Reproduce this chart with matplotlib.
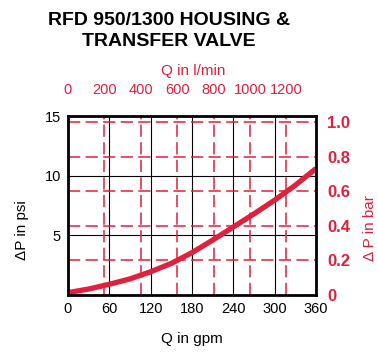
import matplotlib
matplotlib.use("Agg")
import matplotlib.pyplot as plt
import numpy as np

plt.rcParams['font.family'] = ['Liberation Sans', 'DejaVu Sans']

RED = '#e0203c'

# data
flow_gpm = [0, 30, 60, 90, 120, 150, 180, 210, 240, 270, 300, 330, 360]
dp_psi = [0.2, 0.5, 0.9, 1.35, 1.95, 2.65, 3.55, 4.6, 5.7, 6.8, 7.95, 9.2, 10.6]

x_ticks_gpm = [0, 60, 120, 180, 240, 300, 360]
y_ticks_psi = [5, 10, 15]
x_ticks_lpm = [0, 200, 400, 600, 800, 1000, 1200]
y_ticks_bar = [0, 0.2, 0.4, 0.6, 0.8, 1.0]
y_labels_bar = ['0', '0.2', '0.4', '0.6', '0.8', '1.0']

LPM_PER_GPM = 3.785
PSI_PER_BAR = 14.5038

W, H = 378, 352
fig = plt.figure(figsize=(W / 100, H / 100), dpi=100)
ax = fig.add_axes([68 / W, 57 / H, 248 / W, 179 / H])
ax.set_xlim(0, 360)
ax.set_ylim(0, 15)

# black grid
for xv in x_ticks_gpm[1:-1]:
    ax.axvline(xv, color='black', lw=0.8, zorder=1)
for yv in y_ticks_psi[:-1]:
    ax.axhline(yv, color='black', lw=0.8, zorder=1)
# red dashed grid
for lv in x_ticks_lpm[1:]:
    ax.axvline(lv / LPM_PER_GPM, color=RED, lw=1.1, dashes=(8, 3.5), zorder=2)
for bv in y_ticks_bar[1:]:
    ax.axhline(bv * PSI_PER_BAR, color=RED, lw=1.1, dashes=(8, 3.5), zorder=2)

ax.plot(flow_gpm, dp_psi, color=RED, lw=3.8, solid_capstyle='butt', zorder=3, clip_on=False)

for s in ax.spines.values():
    s.set_linewidth(2.0)
    s.set_color('black')
    s.set_zorder(4)

ax.set_xticks(x_ticks_gpm)
ax.set_xticklabels([str(v) for v in x_ticks_gpm])
ax.set_yticks(y_ticks_psi)
ax.set_yticklabels([str(v) for v in y_ticks_psi])
ax.tick_params(length=0, labelsize=10.5, pad=5)

secx = ax.secondary_xaxis('top', functions=(lambda g: g * LPM_PER_GPM, lambda l: l / LPM_PER_GPM))
secx.set_xticks(x_ticks_lpm)
secx.tick_params(length=0, labelsize=10.5, labelcolor=RED, pad=14)
secx.spines['top'].set_visible(False)

secy = ax.secondary_yaxis('right', functions=(lambda p: p / PSI_PER_BAR, lambda b: b * PSI_PER_BAR))
secy.set_yticks(y_ticks_bar)
secy.set_yticklabels(y_labels_bar)
secy.tick_params(length=0, labelsize=12, labelcolor=RED, pad=8)
for t in secy.get_yticklabels():
    t.set_fontweight('semibold')
secy.spines['right'].set_visible(False)

fig.text(169 / W, 1 - 31 / H, 'RFD 950/1300 HOUSING &\nTRANSFER VALVE', ha='center', va='center',
         fontsize=14, fontweight='bold', linespacing=1.25)
fig.text(193 / W, 1 - 71 / H, 'Q in l/min', ha='center', va='center', fontsize=11, color=RED)
fig.text(192 / W, 1 - 339 / H, 'Q in gpm', ha='center', va='center', fontsize=11)
fig.text(22 / W, 1 - 230 / H, '\u0394P in psi', ha='center', va='center', fontsize=11, rotation=90)
fig.text(370 / W, 1 - 228 / H, '\u0394 P in bar', ha='center', va='center', fontsize=11, rotation=90, color=RED)

fig.savefig('out.png', dpi=100)
